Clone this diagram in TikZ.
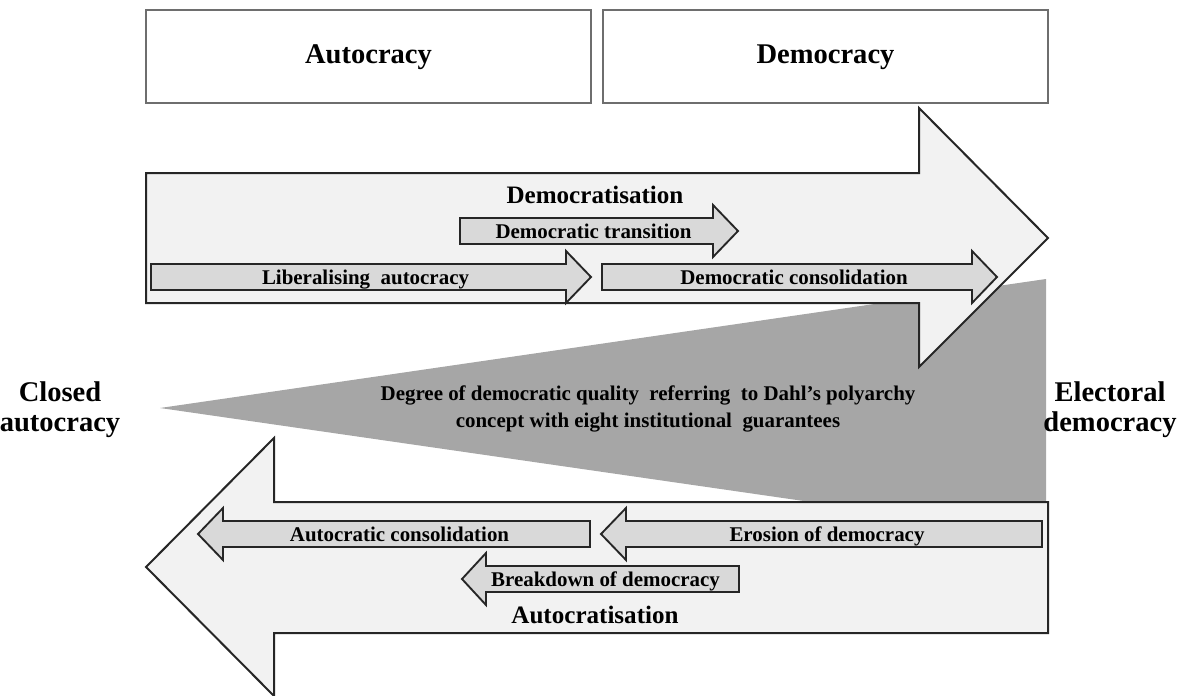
\documentclass[tikz,border=0pt]{standalone}
\usepackage{fontspec}
\setmainfont{Liberation Serif}
\definecolor{bigfill}{HTML}{F2F2F2}
\definecolor{smallfill}{HTML}{D9D9D9}
\definecolor{wedgegrey}{HTML}{A6A6A6}
\definecolor{edgedark}{HTML}{262626}
\definecolor{boxedge}{HTML}{6E6E6E}
% right-pointing block arrow: name, left x, head base x, tip x, centre y, label
\newcommand\rblock[6]{%
  \draw[smallarrow] (#2,#5-13) -- (#3,#5-13) -- (#3,#5-26) -- (#4,#5)
    -- (#3,#5+26) -- (#3,#5+13) -- (#2,#5+13) -- cycle;
  \node[smalllabel] (#1) at ({(#2+#3)/2+7},#5+7) {#6};}
% left-pointing block arrow: name, tip x, head base x, right x, centre y, label
\newcommand\lblock[6]{%
  \draw[smallarrow] (#4,#5-13) -- (#3,#5-13) -- (#3,#5-26) -- (#2,#5)
    -- (#3,#5+26) -- (#3,#5+13) -- (#4,#5+13) -- cycle;
  \node[smalllabel] (#1) at ({(#3+#4)/2-7},#5+7) {#6};}
\begin{document}
\begin{tikzpicture}[x=0.75pt,y=-0.75pt,
  bigarrow/.style={draw=edgedark,fill=bigfill,line width=1.5pt,line join=miter},
  smallarrow/.style={draw=edgedark,fill=smallfill,line width=1.4pt,line join=miter},
  titlebox/.style={draw=boxedge,fill=white,line width=1.1pt},
  wedge/.style={fill=wedgegrey,draw=none},
  titletext/.style={font=\fontsize{21.4pt}{24pt}\selectfont\bfseries,inner sep=0pt},
  sidelabel/.style={font=\fontsize{21.4pt}{22.5pt}\selectfont\bfseries,align=center,inner sep=0pt},
  bandlabel/.style={font=\fontsize{18.8pt}{21pt}\selectfont\bfseries,inner sep=0pt},
  smalllabel/.style={font=\fontsize{15.7pt}{18pt}\selectfont\bfseries,inner sep=0pt,anchor=base},
  wedgelabel/.style={font=\fontsize{15.7pt}{20.25pt}\selectfont\bfseries,align=center,inner sep=0pt}]
\useasboundingbox (0,0) rectangle (1185,696);

% regime boxes
\draw[titlebox] (146,10) rectangle (591,103);
\draw[titlebox] (603,10) rectangle (1048,103);
\node[titletext] (autocracy) at (368.5,57) {Autocracy};
\node[titletext] (democracy) at (825.5,57) {Democracy};

% wedge of democratic quality
\coordinate (apex) at (160,408);
\coordinate (wtop) at (1046,279);
\coordinate (wbot) at (1046,536);
\fill[wedge] (apex) -- (wtop) -- (wbot) -- cycle;

% large democratisation arrow
\draw[bigarrow] (146,173) -- (919,173) -- (919,108) -- (1048,238)
  -- (919,367) -- (919,303) -- (146,303) -- cycle;
% large autocratisation arrow
\draw[bigarrow] (1048,502) -- (274,502) -- (274,438) -- (146,567)
  -- (274,696) -- (274,633) -- (1048,633) -- cycle;

\node[bandlabel] (democratisation) at (595,195) {Democratisation};
\node[bandlabel] (autocratisation) at (595,615) {Autocratisation};

% stages of democratisation
\rblock{transition}{460}{713}{738}{231}{Democratic transition}
\rblock{liberalising}{151}{566}{591}{277}{Liberalising\ \ autocracy}
\rblock{demconsol}{602}{972}{997}{277}{Democratic consolidation}

% stages of autocratisation
\lblock{autconsol}{198}{223}{590}{534}{Autocratic consolidation}
\lblock{erosion}{601}{626}{1042}{534}{Erosion of democracy}
\lblock{breakdown}{462}{486}{739}{579}{Breakdown of democracy}

% scale end points and wedge description
\node[sidelabel] (closed) at (60,410) {Closed\\autocracy};
\node[sidelabel] (electoral) at (1110,410) {Electoral\\democracy};
\node[wedgelabel] (quality) at (648,409)
  {Degree of democratic quality\ \ referring\ \ to Dahl’s polyarchy\\
   concept with eight institutional\ \ guarantees};
\end{tikzpicture}
\end{document}
